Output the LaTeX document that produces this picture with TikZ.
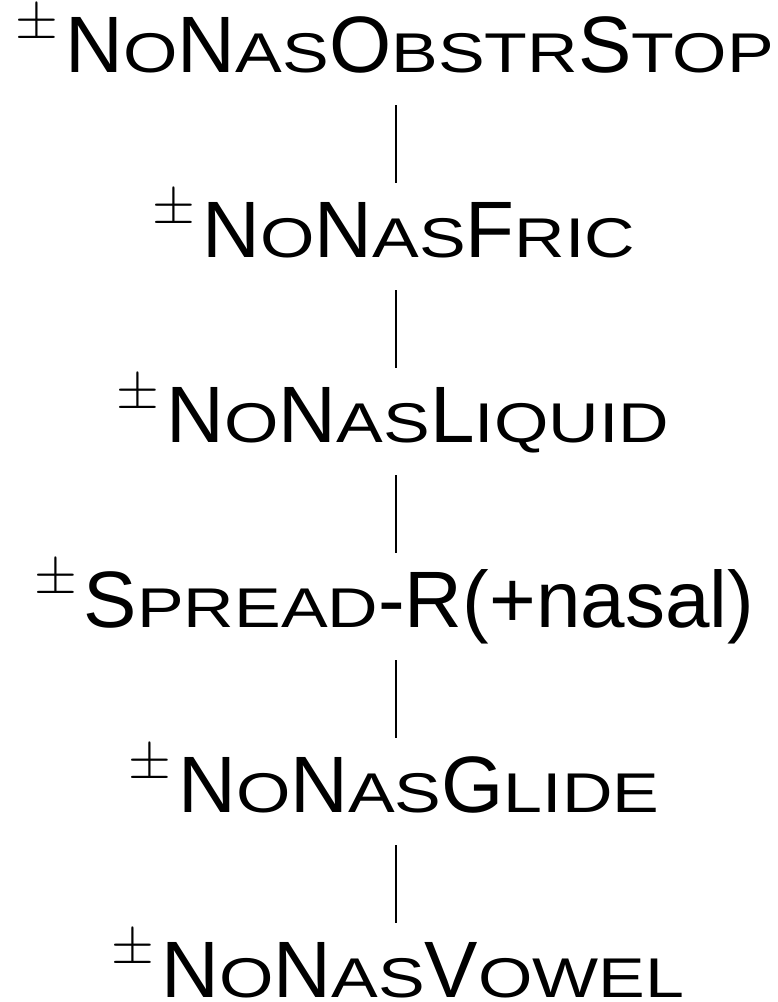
\documentclass[tikz,border=0pt]{standalone}
\usepackage{fontspec}
\setmainfont{Liberation Sans}
\usepackage{graphicx}
\newcommand\pmsign{\raisebox{34pt}{\scalebox{5.5}{\fontsize{10}{10}\selectfont$\pm$}}\kern7pt}
\newcommand\sm[1]{\scalebox{1.25}[1]{\fontsize{56}{56}\selectfont #1}}
\begin{document}
\begin{tikzpicture}[x=1pt,y=1pt,
  feat/.style={anchor=base, inner sep=0pt, font=\fontsize{80}{80}\selectfont},
  conn/.style={line width=2.6pt}]
\useasboundingbox (0,0) rectangle (777,-1002);
\coordinate (axis) at (396,0);
\node[feat] (r1) at (395,-72.7) {\pmsign N\sm{O}N\sm{AS}O\sm{BSTR}S\sm{TOP}};
\node[feat] (r2) at (394,-257.7) {\pmsign N\sm{O}N\sm{AS}F\sm{RIC}};
\node[feat] (r3) at (393,-442.7) {\pmsign N\sm{O}N\sm{AS}L\sm{IQUID}};
\node[feat] (r4) at (394,-627.7) {\pmsign S\sm{PREAD}-R(+nasal)};
\node[feat] (r5) at (394,-812.7) {\pmsign N\sm{O}N\sm{AS}G\sm{LIDE}};
\node[feat] (r6) at (398,-997.7) {\pmsign N\sm{O}N\sm{AS}V\sm{OWEL}};
\foreach \a/\b in {r1/r2,r2/r3,r3/r4,r4/r5,r5/r6}
  \draw[conn] ([yshift=-32.3pt]\a.base -| axis) -- ([yshift=74.7pt]\b.base -| axis);
\end{tikzpicture}
\end{document}
